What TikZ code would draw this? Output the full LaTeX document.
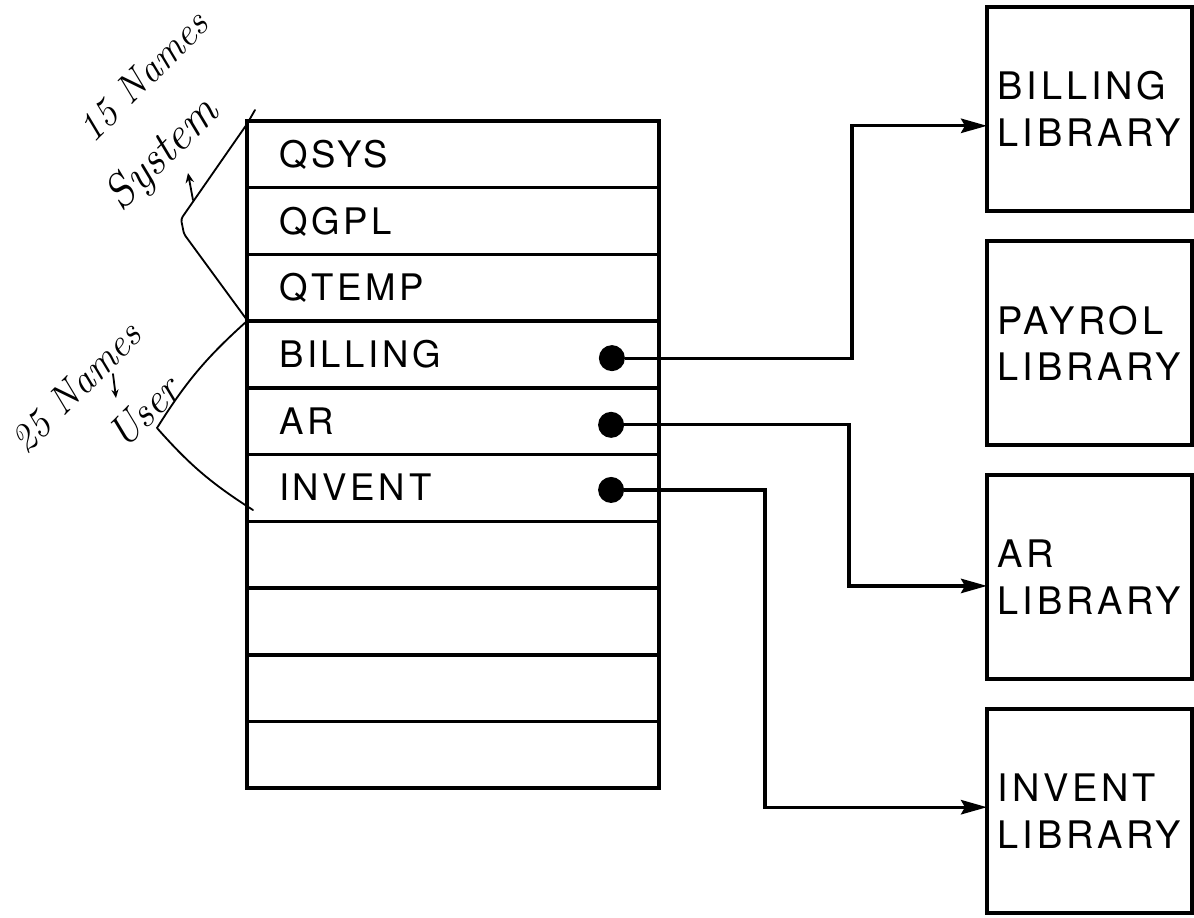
\documentclass[tikz,border=0pt]{standalone}
\usepackage{fontspec}
\usepackage{tikz}
\usetikzlibrary{positioning, arrows.meta}
\newfontfamily\ibmfont[LetterSpace=10]{TeX Gyre Heros}

\begin{document}
\begin{tikzpicture}[
    x=0.025cm, y=-0.025cm,
    node distance=0.75cm,
    row/.style={
        draw,
        line width=2.5pt,
        outer sep=0pt,
        minimum width=10.3cm,
        minimum height=1.6675cm,
        text width=8.7cm,
        inner xsep=0.8cm,
        align=left,
        text height=18.5pt,
        text depth=0pt,
        font=\ibmfont\fontsize{26}{30}\selectfont
    },
    lib/.style={
        draw,
        line width=2.8pt,
        outer sep=0pt,
        minimum width=5.125cm,
        minimum height=5.1cm,
        align=left,
        font=\ibmfont\fontsize{27}{33}\selectfont
    },
    dot/.style={
        circle,
        fill=black,
        inner sep=0pt,
        minimum size=0.65cm
    },
    arr/.style={
        -{Stealth[length=0.65cm, width=0.36cm, inset=0.1cm]},
        line width=2.3pt
    },
    hand/.style={
        line width=1.3pt,
        line join=round,
        line cap=round
    },
    note/.style={
        font=\itshape\fontsize{28}{30}\selectfont,
        rotate=45,
        inner sep=0pt
    }
]
\useasboundingbox (0,0) rectangle (1194,917);

% Library list
\node[row, anchor=north west] (qsys) at (247,121) {QSYS};
\node[row, below=0pt of qsys] (qgpl) {QGPL};
\node[row, below=0pt of qgpl] (qtemp) {QTEMP};
\node[row, below=0pt of qtemp] (billing) {BILLING};
\node[row, below=0pt of billing] (ar) {AR};
\node[row, below=0pt of ar] (invent) {INVENT};
\node[row, below=0pt of invent] (empty1) {};
\node[row, below=0pt of empty1] (empty2) {};
\node[row, below=0pt of empty2] (empty3) {};
\node[row, below=0pt of empty3] (empty4) {};

% Pointers
\node[dot] (billdot) at ([xshift=-1.18cm, yshift=-0.09cm]billing.east) {};
\node[dot] (ardot) at ([xshift=-1.2cm, yshift=-0.09cm]ar.east) {};
\node[dot] (invdot) at ([xshift=-1.2cm, yshift=-0.05cm]invent.east) {};

% Libraries
\node[lib] (billlib) at (1089.5,109) {BILLING\\LIBRARY};
\node[lib, below=of billlib] (paylib) {PAYROL\\LIBRARY};
\node[lib, below=of paylib] (arlib) {AR\\LIBRARY};
\node[lib, below=of arlib] (invlib) {INVENT\\LIBRARY};

% Connections
\draw[arr] (billdot) -- ++(240,0) |- ([yshift=-0.42cm]billlib.west);
\draw[arr] (ardot) -- ++(238,0) |- ([yshift=-0.22cm]arlib.west);
\draw[arr] (invdot) -- ++(154,0) |- ([yshift=0.1cm]invlib.west);

% Handwritten notes
\draw[hand, rounded corners=2pt]
(255,110) -- (247,124) -- (181,219) -- (184,234) -- (247,320);
\draw[hand] (247,321) to[bend right=8] (157,428) to[bend right=8] (253,510);

\node[note] (sysnames) at (143,76) {15 Names};
\node[note, font=\itshape\fontsize{33}{34}\selectfont] (system) at (163,155) {System};
\node[note] (usernames) at (76,387) {25 Names};
\node[note, font=\itshape\fontsize{30}{32}\selectfont] (user) at (144,412) {User};

\draw[hand, -{Stealth[length=7pt, width=6pt]}] (193,200) -- (188,173);
\draw[hand, -{Stealth[length=6pt, width=5pt]}] (113,374) -- (116,398);

\end{tikzpicture}
\end{document}
